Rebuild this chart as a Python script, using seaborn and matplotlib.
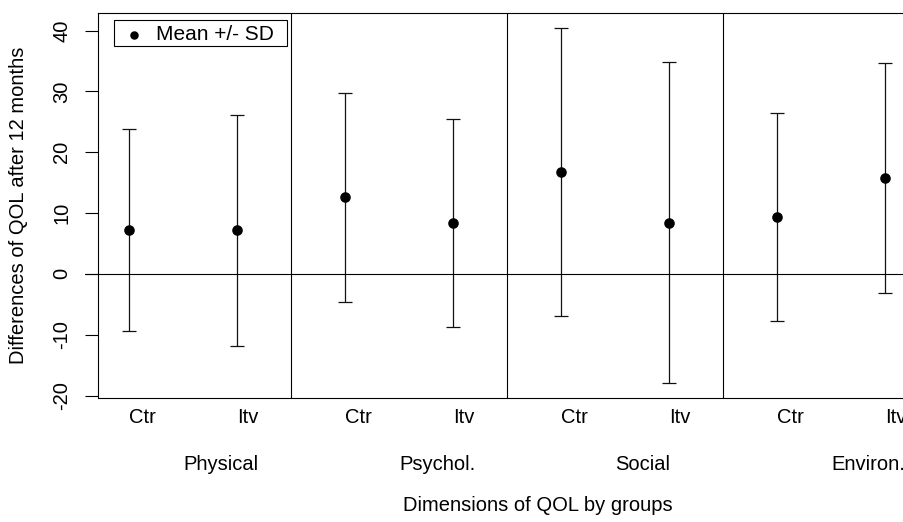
import numpy as np
import pandas as pd
import matplotlib
matplotlib.use("Agg")
import matplotlib.pyplot as plt
import matplotlib.transforms as mtransforms
from matplotlib.patches import Rectangle
import seaborn as sns

# ---- data ----
dimensions = ["Physical", "Psychol.", "Social", "Environ."]
groups = ["Ctr", "Itv"]
mean_ctr = [7.2, 12.6, 16.7, 9.4]
sd_ctr = [16.6, 17.2, 23.7, 17.1]
mean_itv = [7.2, 8.4, 8.4, 15.7]
sd_itv = [19.0, 17.1, 26.4, 18.9]
yticks = [-20, -10, 0, 10, 20, 30, 40]

rows = []
for i, d in enumerate(dimensions):
    rows.append(dict(dim=d, group="Ctr", mean=mean_ctr[i], sd=sd_ctr[i]))
    rows.append(dict(dim=d, group="Itv", mean=mean_itv[i], sd=sd_itv[i]))
df = pd.DataFrame(rows)
df["pos"] = np.arange(len(df))

sns.set_style("white")
plt.rcParams["font.family"] = ["Liberation Sans", "DejaVu Sans"]
plt.rcParams["font.size"] = 14.5
plt.rcParams["text.color"] = "black"
plt.rcParams["axes.labelcolor"] = "black"
plt.rcParams["xtick.color"] = "black"
plt.rcParams["ytick.color"] = "black"

W, H = 904, 522
fig = plt.figure(figsize=(W / 100, H / 100), dpi=100)
ax_l, ax_r, ax_t, ax_b = 98, 978, 13, 398
ax = fig.add_axes([ax_l / W, (H - ax_b) / H, (ax_r - ax_l) / W, (ax_b - ax_t) / H])
axw = ax_r - ax_l
axh = ax_b - ax_t

# error bars (mean +/- SD)
ax.errorbar(df["pos"], df["mean"], yerr=df["sd"], fmt="none", ecolor="#111111",
            elinewidth=0.9, capsize=4.7, capthick=0.9, zorder=2)
sns.scatterplot(data=df, x="pos", y="mean", color="black", s=58, edgecolor="black",
                linewidth=0, label="Mean +/- SD", ax=ax, zorder=3)

# separators and zero line
for k in range(1, len(dimensions)):
    ax.axvline(2 * k - 0.5, color="black", lw=0.8)
ax.axhline(0, xmin=-13 / axw, xmax=1, color="black", lw=0.8, clip_on=False)

ax.set_xlim(-31 / 108, (ax_r - 129) / 108)
ax.set_ylim(-20.4, 42.9)

ax.set_yticks(yticks)
ax.set_yticklabels([str(v) for v in yticks], rotation=90, va="center")
ax.tick_params(axis="y", length=9.4, width=0.8, color="black", pad=10, direction="out",
               left=True, labelsize=14.5, labelcolor="black")
ax.set_xticks(df["pos"])
ax.set_xticklabels(df["group"], ha="left")
ax.tick_params(axis="x", length=0, pad=7, labelsize=14.5, labelcolor="black")

for s in ax.spines.values():
    s.set_color("black")
    s.set_linewidth(0.8)

# dimension labels
trans = mtransforms.blended_transform_factory(ax.transData, ax.transAxes)
centers = df.groupby("dim", sort=False)["pos"].mean()
for d in dimensions:
    ax.text(centers[d], (ax_b - 465) / axh, d, transform=trans,
            ha="left", va="center", fontsize=14.5, color="black")

ax.set_xlabel("Dimensions of QOL by groups", fontsize=14.5, color="black")
ax.xaxis.set_label_coords(0.5, (ax_b - 496) / axh)
ax.set_ylabel("Differences of QOL after 12 months", fontsize=14.5, va="center", color="black")
ax.yaxis.set_label_coords((19 - ax_l) / axw, 0.5)

# legend (box drawn separately to match the reference's proportions)
leg = ax.legend(loc="center left", bbox_to_anchor=((124 - ax_l) / axw, (ax_b - 35) / axh),
                borderaxespad=0, frameon=False, handlelength=1.0, handletextpad=0.55,
                borderpad=0, markerscale=0.8, fontsize=15)
for t in leg.get_texts():
    t.set_color("black")
ax.add_patch(Rectangle(((114 - ax_l) / axw, (ax_b - 46) / axh), (287 - 114) / axw, 26 / axh,
                       transform=ax.transAxes, fill=False, edgecolor="black", lw=0.8,
                       zorder=5))

fig.savefig("out.png", dpi=100)
